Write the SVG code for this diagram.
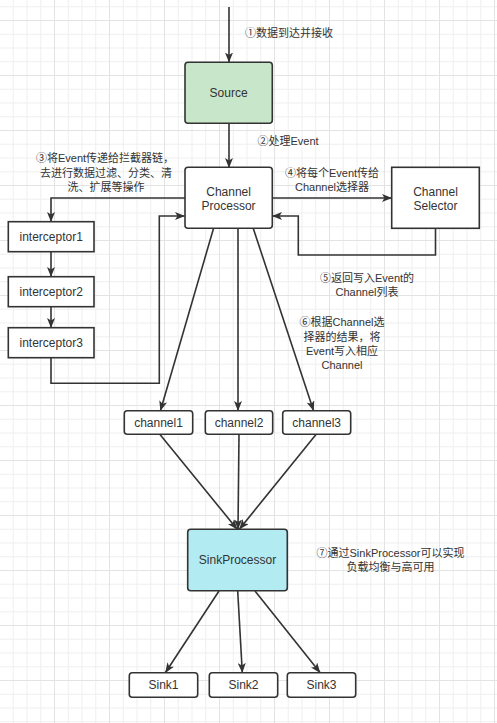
<svg xmlns="http://www.w3.org/2000/svg" width="497" height="723" viewBox="0 0 497 723">
<defs>
<pattern id="grid" patternUnits="userSpaceOnUse" x="-1" y="20" width="55" height="55">
<rect x="13.75" y="0" width="1" height="55" fill="#efefef"/>
<rect x="27.5" y="0" width="1" height="55" fill="#efefef"/>
<rect x="41.25" y="0" width="1" height="55" fill="#efefef"/>
<rect x="0" y="13.75" width="55" height="1" fill="#efefef"/>
<rect x="0" y="27.5" width="55" height="1" fill="#efefef"/>
<rect x="0" y="41.25" width="55" height="1" fill="#efefef"/>
<rect x="0" y="0" width="1" height="55" fill="#e3e3e3"/>
<rect x="0" y="0" width="55" height="1" fill="#e3e3e3"/>
</pattern>
<marker id="arr" markerUnits="userSpaceOnUse" viewBox="0 0 10 8" markerWidth="10" markerHeight="8" refX="9.5" refY="4" orient="auto">
<path d="M0,0 L10,4 L0,8 L2.5,4 Z" fill="#333"/>
</marker>
</defs>
<style>
.box{stroke:#333;stroke-width:1.6;fill:#fff}
.lbl{font-family:"Liberation Sans","Noto Sans",sans-serif;font-size:12px;fill:#333;text-anchor:middle;dominant-baseline:central}
.note{font-family:"Liberation Sans","Noto Sans CJK SC",sans-serif;font-size:11px;fill:#333;text-anchor:middle;dominant-baseline:central}
.edge{stroke:#333;stroke-width:1.6;fill:none;marker-end:url(#arr)}
</style>
<rect x="0" y="0" width="497" height="723" fill="#fff"/>
<rect x="0" y="0" width="497" height="723" fill="url(#grid)"/>

<g id="connectors">
<path class="edge" d="M229,7 L229,62"/>
<path class="edge" d="M229,123.5 L229,167.5"/>
<path class="edge" d="M185,198 L51,198 L51,221.5"/>
<path class="edge" d="M272,198 L391.5,198"/>
<path class="edge" d="M435.5,228.5 L435.5,255 L298.3,255 L298.3,216 L272.5,216"/>
<path class="edge" d="M51,251.7 L51,276.5"/>
<path class="edge" d="M51,306.7 L51,327.5"/>
<path class="edge" d="M51,357.7 L51,383.3 L159.3,383.3 L159.3,216 L184.5,216"/>
<path class="edge" d="M213.5,228.5 L160.5,410.5"/>
<path class="edge" d="M238,228.5 L238,410.5"/>
<path class="edge" d="M253.3,228.5 L313.5,410.5"/>
<path class="edge" d="M160,434.5 L237,529"/>
<path class="edge" d="M239,434.5 L238,529"/>
<path class="edge" d="M316,434.5 L239.5,529"/>
<path class="edge" d="M219,591 L165.5,672.5"/>
<path class="edge" d="M237.7,591 L242.3,672.5"/>
<path class="edge" d="M255,591 L320,672.5"/>
</g>

<g id="labels">
<text class="note" x="289" y="33">①数据到达并接收</text>
<text class="note" x="288" y="141">②处理Event</text>
<text class="note" x="105" y="158">③将Event传递给拦截器链，</text>
<text class="note" x="106" y="173">去进行数据过滤、分类、清</text>
<text class="note" x="106" y="187">洗、扩展等操作</text>
<text class="note" x="332" y="173">④将每个Event传给</text>
<text class="note" x="332" y="187">Channel选择器</text>
<text class="note" x="367" y="278">⑤返回写入Event的</text>
<text class="note" x="367" y="292">Channel列表</text>
<text class="note" x="342" y="322">⑥根据Channel选</text>
<text class="note" x="342" y="336.5">择器的结果，将</text>
<text class="note" x="342" y="350.5">Event写入相应</text>
<text class="note" x="342" y="364.5">Channel</text>
<text class="note" x="390.5" y="553">⑦通过SinkProcessor可以实现</text>
<text class="note" x="390.5" y="567">负载均衡与高可用</text>
</g>

<g id="source">
<rect class="box" x="185" y="62.3" width="87.3" height="61" rx="3" style="fill:#c8e6c9"/>
<text class="lbl" x="228.6" y="93">Source</text>
</g>
<g id="channel-processor">
<rect class="box" x="185" y="167.3" width="87.3" height="61" rx="3"/>
<text class="lbl" x="228.6" y="191.5">Channel</text>
<text class="lbl" x="228.6" y="205.5">Processor</text>
</g>
<g id="channel-selector">
<rect class="box" x="391.7" y="167.3" width="87.6" height="61"/>
<text class="lbl" x="435.5" y="191.5">Channel</text>
<text class="lbl" x="435.5" y="205.5">Selector</text>
</g>
<g id="interceptor1">
<rect class="box" x="8.3" y="221.7" width="85.7" height="30"/>
<text class="lbl" x="51.2" y="236.7">interceptor1</text>
</g>
<g id="interceptor2">
<rect class="box" x="8.3" y="276.7" width="85.7" height="30"/>
<text class="lbl" x="51.2" y="291.7">interceptor2</text>
</g>
<g id="interceptor3">
<rect class="box" x="8.3" y="327.7" width="85.7" height="30"/>
<text class="lbl" x="51.2" y="342.7">interceptor3</text>
</g>
<g id="channel1">
<rect class="box" x="124.3" y="410.7" width="68.4" height="23.6" rx="3"/>
<text class="lbl" x="158.5" y="422.5">channel1</text>
</g>
<g id="channel2">
<rect class="box" x="205.3" y="410.7" width="67.4" height="23.6" rx="3"/>
<text class="lbl" x="239" y="422.5">channel2</text>
</g>
<g id="channel3">
<rect class="box" x="282.7" y="410.7" width="68" height="23.6" rx="3"/>
<text class="lbl" x="316.7" y="422.5">channel3</text>
</g>
<g id="sink-processor">
<rect class="box" x="187.7" y="529.3" width="99.6" height="61.4" rx="3" style="fill:#b2ebf2"/>
<text class="lbl" x="237.5" y="560">SinkProcessor</text>
</g>
<g id="sink1">
<rect class="box" x="129.3" y="672.7" width="68.4" height="24.6" rx="3"/>
<text class="lbl" x="163.5" y="685">Sink1</text>
</g>
<g id="sink2">
<rect class="box" x="209.3" y="672.7" width="68.4" height="24.6" rx="3"/>
<text class="lbl" x="243.5" y="685">Sink2</text>
</g>
<g id="sink3">
<rect class="box" x="287.3" y="672.7" width="68.4" height="24.6" rx="3"/>
<text class="lbl" x="321.5" y="685">Sink3</text>
</g>
</svg>
